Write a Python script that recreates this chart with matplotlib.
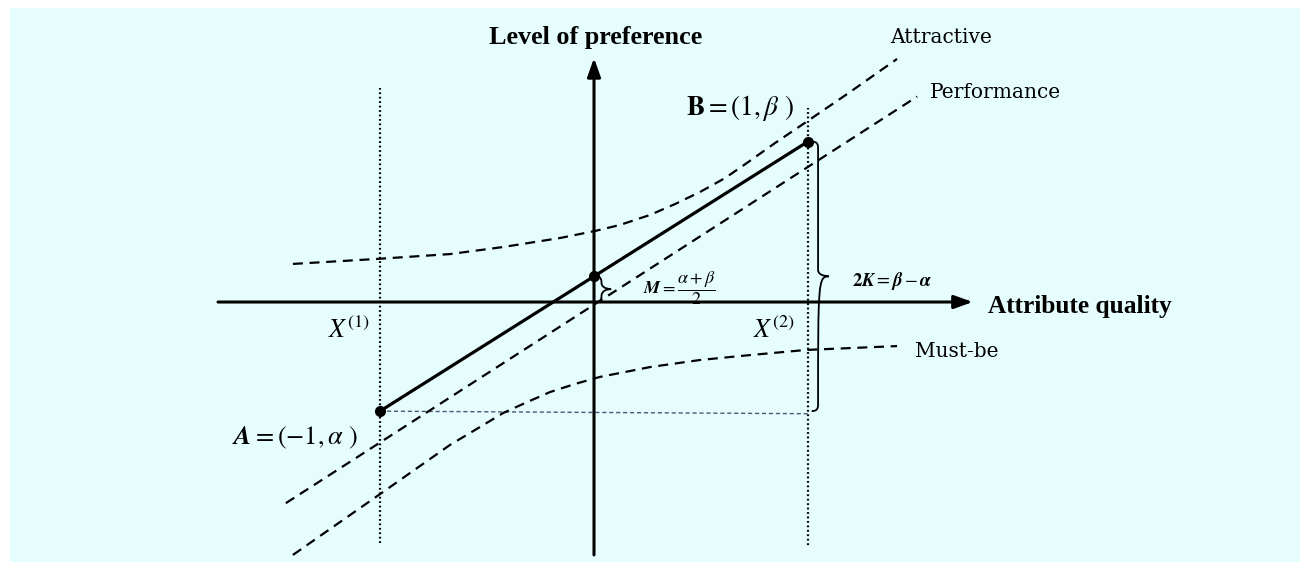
import matplotlib.pyplot as plt
from matplotlib.path import Path
from matplotlib.patches import PathPatch

plt.rcParams['font.family'] = ['DejaVu Serif']
plt.rcParams['mathtext.fontset'] = 'stix'

# key points of the diagram
alpha = -0.51
beta = 0.75
x_pts = [-1, 1]
y_pts = [alpha, beta]
m_val = (alpha + beta) / 2

# curves
attr_x = [-1.407, -1.019, -0.673, -0.425, -0.159, 0.005, 0.121, 0.262, 0.379, 0.495, 0.612, 0.715, 0.846, 0.991, 1.196, 1.416]
attr_y = [0.178, 0.201, 0.224, 0.257, 0.299, 0.332, 0.360, 0.407, 0.458, 0.514, 0.579, 0.650, 0.743, 0.841, 0.981, 1.136]
perf_x = [-1.44, 1.51]
perf_y = [-0.94, 0.96]
must_x = [-1.407, -1.019, -0.673, -0.556, -0.425, -0.322, -0.206, -0.089, 0.028, 0.262, 0.495, 0.729, 0.991, 1.416]
must_y = [-1.182, -0.911, -0.668, -0.598, -0.519, -0.472, -0.421, -0.383, -0.350, -0.304, -0.271, -0.248, -0.224, -0.206]

bg = '#e6fdfd'
fig = plt.figure(figsize=(13, 5.62), dpi=100, facecolor='white')
ax = fig.add_axes([10 / 1300, 0, 1290 / 1300, 554 / 562])
ax.set_facecolor(bg)
ax.set_xlim(-2.729, 3.299)
ax.set_ylim(-1.215, 1.374)
ax.set_xticks([])
ax.set_yticks([])
for s in ax.spines.values():
    s.set_visible(False)

# axes with arrows
ax.annotate('', xy=(1.77, 0), xytext=(-1.757, 0),
            arrowprops=dict(arrowstyle='-|>,head_length=0.7,head_width=0.25', lw=2.2, color='black',
                            mutation_scale=16, shrinkA=0, shrinkB=0))
ax.annotate('', xy=(0, 1.14), xytext=(0, -1.182),
            arrowprops=dict(arrowstyle='-|>,head_length=0.7,head_width=0.25', lw=2.2, color='black',
                            mutation_scale=16, shrinkA=0, shrinkB=0))

# dotted verticals at X(1), X(2)
ax.plot([-1, -1], [-1.126, 1.0], color='black', lw=1.6, ls=(0, (0.8, 1.2)))
ax.plot([1, 1], [-1.136, 0.907], color='black', lw=1.6, ls=(0, (0.8, 1.2)))
# thin horizontal at alpha
ax.plot([-1, 1], [alpha, alpha - 0.012], color='#4a5878', lw=1.0, ls=(0, (3, 2)))

dash = (0, (4.5, 3))
ax.plot(attr_x, attr_y, color='black', lw=1.6, ls=dash)
ax.plot(perf_x, perf_y, color='black', lw=1.6, ls=dash)
ax.plot(must_x, must_y, color='black', lw=1.6, ls=dash)

ax.plot(x_pts, y_pts, color='black', lw=2.3, solid_capstyle='round')
ax.plot(x_pts + [0], y_pts + [m_val], 'o', color='black', ms=7)


def brace(x, y0, y1, w):
    ym = (y0 + y1) / 2
    verts = [(x - w * 0.6, y1), (x, y1), (x, y1 - 0.02), (x, y1 - 0.03),
             (x, ym + 0.03),
             (x, ym), (x + w, ym), (x + w, ym),
             (x, ym), (x, ym - 0.03),
             (x, y0 + 0.03),
             (x, y0 + 0.02), (x, y0), (x - w * 0.6, y0)]
    codes = [Path.MOVETO, Path.CURVE4, Path.CURVE4, Path.CURVE4,
             Path.LINETO,
             Path.CURVE4, Path.CURVE4, Path.CURVE4,
             Path.CURVE4, Path.CURVE4, Path.LINETO,
             Path.CURVE4, Path.CURVE4, Path.CURVE4]
    ax.add_patch(PathPatch(Path(verts, codes), fill=False, lw=1.3, color='black'))


brace(1.047, alpha, beta, 0.05)
brace(0.035, 0.0, m_val, 0.045)

bold_font = ['Liberation Serif', 'DejaVu Serif']
ax.text(0.009, 1.238, 'Level of preference', ha='center', va='center', fontsize=18.8,
        fontweight='bold', family=bold_font)
ax.text(1.841, -0.019, 'Attribute quality', ha='left', va='center', fontsize=18.3,
        fontweight='bold', family=bold_font)
ax.text(1.383, 1.234, 'Attractive', ha='left', va='center', fontsize=14.5)
ax.text(1.570, 0.981, 'Performance', ha='left', va='center', fontsize=14.5)
ax.text(1.500, -0.229, 'Must-be', ha='left', va='center', fontsize=14.5)
ax.text(0.430, 0.907, r'$\mathbf{B}=(1,\beta\ )$', ha='left', va='center', fontsize=19.5)
ax.text(-1.692, -0.636, r'$\boldsymbol{A}=(-1,\alpha\ )$', ha='left', va='center', fontsize=19)
ax.text(-1.243, -0.131, r'$X^{(1)}$', ha='left', va='center', fontsize=18.5)
ax.text(0.743, -0.131, r'$X^{(2)}$', ha='left', va='center', fontsize=18.5)
ax.text(0.229, 0.065, r'$\boldsymbol{M}=\dfrac{\alpha+\beta}{2}$', ha='left', va='center', fontsize=13)
ax.text(1.206, 0.098, r'$\mathbf{2}\boldsymbol{K}=\boldsymbol{\beta}-\boldsymbol{\alpha}$', ha='left', va='center', fontsize=13.5)

fig.savefig('out.png', dpi=100, facecolor='white')
